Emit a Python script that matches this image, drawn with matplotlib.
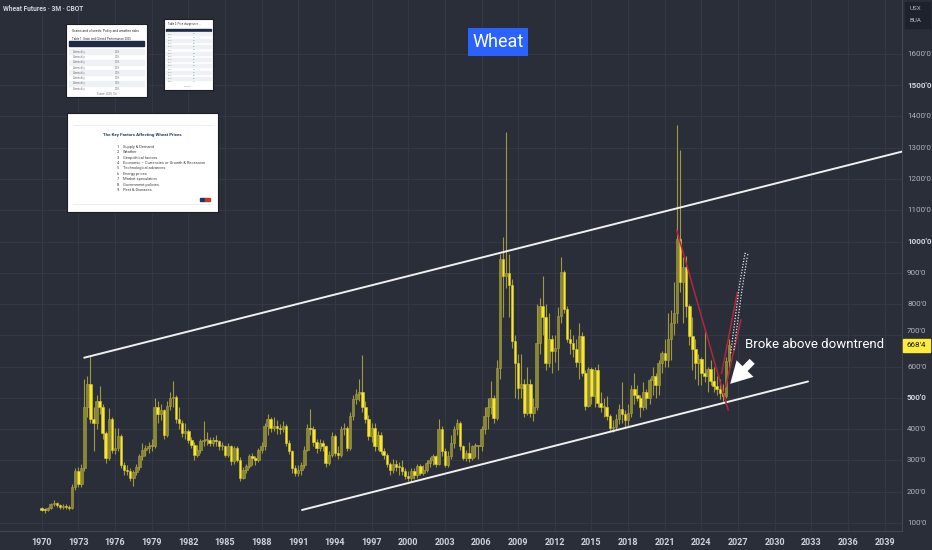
import numpy as np
import matplotlib
matplotlib.use("Agg")
import matplotlib.pyplot as plt
import matplotlib.transforms as mtransforms
from matplotlib.patches import Rectangle

# quarterly candles, 1970 Q1 .. 2026 Q2 (US cents / bushel)
closes = [
    143, 140, 148, 160, 165, 158, 150, 155,
    150, 148, 215, 265, 225, 276, 470, 543,
    431, 420, 490, 470, 388, 307, 431, 334,
    340, 377, 286, 270, 265, 245, 262, 280,
    313, 334, 340, 345, 345, 470, 447, 460,
    383, 475, 500, 503, 431, 420, 388, 395,
    367, 351, 318, 334, 361, 366, 367, 356,
    367, 361, 345, 345, 318, 345, 297, 340,
    302, 243, 270, 281, 313, 308, 302, 334,
    345, 409, 431, 404, 409, 405, 400, 410,
    356, 330, 275, 260, 268, 286, 334, 404,
    400, 360, 340, 355, 345, 292, 318, 377,
    324, 318, 399, 404, 340, 442, 495, 511,
    520, 470, 431, 377, 404, 345, 383, 329,
    318, 290, 270, 290, 280, 278, 265, 249,
    243, 265, 254, 281, 260, 270, 292, 302,
    313, 290, 399, 329, 286, 313, 356, 399,
    420, 345, 308, 324, 308, 345, 345, 345,
    399, 442, 470, 500, 436, 597, 945, 891,
    900, 860, 682, 613, 533, 545, 452, 543,
    452, 470, 677, 795, 760, 613, 690, 650,
    660, 763, 902, 784, 688, 677, 655, 615,
    698, 581, 474, 591, 506, 590, 484, 470,
    470, 441, 404, 408, 433, 463, 450, 430,
    452, 527, 510, 500, 470, 520, 500, 556,
    570, 540, 613, 645, 620, 688, 741, 773,
    1009, 870, 920, 795, 698, 655, 613, 625,
    581, 570, 591, 554, 538, 527, 516, 506,
    618, 668,
]
highs = [
    150, 148, 152, 165, 172, 168, 162, 160,
    160, 156, 225, 275, 280, 290, 560, 570,
    634, 470, 510, 538, 480, 395, 468, 440,
    404, 404, 385, 295, 285, 275, 270, 290,
    320, 355, 350, 360, 370, 500, 490, 480,
    465, 490, 520, 554, 510, 470, 430, 420,
    400, 375, 360, 350, 370, 425, 390, 375,
    375, 380, 365, 360, 350, 355, 350, 345,
    345, 310, 280, 290, 320, 325, 315, 340,
    360, 420, 447, 440, 440, 430, 415, 425,
    415, 365, 335, 285, 285, 295, 345, 415,
    463, 410, 370, 370, 365, 350, 330, 390,
    385, 345, 410, 420, 410, 455, 510, 530,
    560, 636, 490, 445, 420, 420, 395, 390,
    340, 325, 295, 305, 300, 295, 300, 275,
    265, 275, 275, 290, 290, 285, 300, 310,
    320, 318, 431, 410, 340, 330, 380, 410,
    431, 425, 350, 335, 360, 350, 355, 350,
    410, 470, 500, 554, 510, 620, 960, 1014,
    1350, 960, 880, 700, 640, 640, 560, 600,
    560, 500, 800, 820, 890, 800, 770, 700,
    700, 790, 950, 910, 795, 720, 700, 690,
    740, 710, 590, 600, 600, 600, 610, 520,
    500, 505, 450, 430, 450, 480, 550, 460,
    480, 540, 580, 540, 510, 550, 530, 565,
    600, 580, 620, 650, 690, 770, 780, 870,
    1373, 1293, 950, 955, 800, 760, 690, 640,
    630, 720, 600, 620, 600, 570, 560, 545,
    630, 690,
]
lows = [
    138, 132, 137, 145, 155, 150, 145, 146,
    145, 140, 145, 205, 215, 215, 265, 440,
    420, 330, 400, 450, 370, 291, 300, 325,
    320, 330, 275, 255, 255, 233, 217, 255,
    270, 300, 315, 325, 330, 340, 420, 430,
    370, 375, 460, 470, 420, 400, 375, 370,
    355, 340, 300, 310, 325, 345, 350, 345,
    345, 345, 335, 335, 310, 310, 285, 290,
    295, 235, 240, 260, 275, 285, 285, 295,
    325, 335, 380, 390, 395, 385, 385, 390,
    345, 320, 260, 250, 250, 255, 275, 330,
    380, 345, 325, 330, 330, 280, 285, 310,
    315, 305, 310, 380, 330, 335, 430, 480,
    490, 455, 420, 365, 360, 330, 335, 320,
    305, 280, 255, 260, 265, 255, 255, 240,
    235, 235, 240, 245, 255, 255, 262, 280,
    285, 278, 285, 315, 280, 280, 305, 340,
    380, 335, 300, 298, 295, 300, 310, 305,
    330, 385, 400, 450, 420, 430, 560, 760,
    850, 760, 660, 500, 495, 500, 440, 445,
    440, 425, 460, 640, 700, 590, 600, 580,
    615, 590, 740, 770, 680, 640, 630, 600,
    560, 570, 460, 470, 480, 470, 470, 455,
    440, 430, 395, 390, 400, 415, 420, 405,
    410, 440, 480, 490, 440, 460, 465, 480,
    510, 500, 510, 580, 600, 600, 620, 700,
    740, 840, 740, 760, 670, 590, 560, 540,
    540, 550, 520, 540, 520, 510, 495, 490,
    500, 600,
]
first_open = 145
last_close = 668.5
last_price = "668'4"

year_ticks = list(range(1970, 2040, 3))
price_ticks = list(range(100, 1700, 100))

# drawings on the chart, as (year, price) anchors
channel_top = [(1973.49, 628.6), (2040.41, 1287.7)]
channel_bottom = [(1991.31, 141.6), (2032.72, 552.5)]
red_lines = [
    [(2021.97, 1037), (2026.19, 461.4)],
    [(2025.65, 578.7), (2026.93, 836.5)],
    [(2025.98, 535.9), (2027.23, 749.2)],
]
dotted_paths = [
    [(2026.39, 642.7), (2027.09, 855.7), (2027.56, 962.5), (2027.83, 957.1)],
    [(2026.66, 653.2), (2027.29, 839.7), (2027.75, 951.6)],
]
arrow_tail = (2028.15, 617)
arrow_tip = (2026.35, 545)
note_pos = (2027.56, 672.4)

factors = ["Supply & Demand", "Weather", "Geopolitical factors",
           "Economic \u2013 Currencies or Growth & Recession",
           "Technological advances", "Energy prices", "Market speculation",
           "Government policies", "Pest & Diseases"]

bg = "#2a2e39"
grid_c = "#353a47"
txt_c = "#d1d4dc"

plt.rcParams["font.family"] = ["Roboto", "DejaVu Sans"]

W, H = 932, 550
fig = plt.figure(figsize=(W / 100, H / 100), dpi=100)
fig.patch.set_facecolor(bg)
ax = fig.add_axes([0, 19 / H, 902 / W, 531 / H])
ax.set_facecolor(bg)
ax.set_xlim(1966.596, 2040.41)
ax.set_ylim(74.4, 1772.5)

# candles
c = np.array(closes, dtype=float)
o = np.array([first_open] + closes[:-1], dtype=float)
hi = np.array(highs, dtype=float)
lo = np.array(lows, dtype=float)
xs = 1970 + np.arange(len(c)) * 0.25
up = c >= o
body_col = np.where(up, "#8a8638", "#f7e62c")
edge_col = np.where(up, "#aaa342", "#d9c932")
ax.vlines(xs, lo, hi, colors="#a09a3e", lw=0.8, zorder=2)
bottom = np.minimum(o, c)
height = np.maximum(np.abs(c - o), 4)
ax.bar(xs, height, bottom=bottom, width=0.21, color=body_col,
       edgecolor=edge_col, linewidth=0.4, zorder=3)

# channel + downtrend drawings
for seg in (channel_top, channel_bottom):
    ax.plot(*zip(*seg), color="#f0f0f0", lw=1.4, zorder=4, solid_capstyle="round")
for seg in red_lines:
    ax.plot(*zip(*seg), color="#b3263f", lw=1.1, zorder=4)
for path in dotted_paths:
    ax.plot(*zip(*path), color="#e8e8e8", lw=0.9, ls=(0, (1, 1.3)), zorder=4)
ax.annotate("", xy=arrow_tip, xytext=arrow_tail,
            arrowprops=dict(arrowstyle="simple,tail_width=0.3,head_width=1.0,head_length=0.9",
                            color="white", mutation_scale=17, lw=0, shrinkA=0, shrinkB=0),
            zorder=5)
ax.text(*note_pos, "Broke above downtrend", color="white", fontsize=9.5,
        va="center", ha="left", zorder=5)

# axes styling
ax.set_xticks(year_ticks)
ax.set_xticklabels([str(y) for y in year_ticks])
ax.set_yticks(price_ticks)
ax.set_yticklabels([])
ax.yaxis.tick_right()
ax.tick_params(axis="x", length=0, pad=5, labelsize=6.5, labelcolor=txt_c)
ax.tick_params(axis="y", length=0)
for lab in ax.get_xticklabels():
    lab.set_fontweight("bold")
ax.grid(True, color=grid_c, lw=0.6)
ax.set_axisbelow(True)
for s in ("top", "left"):
    ax.spines[s].set_visible(False)
for s in ("bottom", "right"):
    ax.spines[s].set_color("#434651")
    ax.spines[s].set_linewidth(0.8)

# price scale labels (700 nudged up by the last-price badge)
ytrans = ax.get_yaxis_transform()
for p in price_ticks:
    tr = ytrans
    if p == 700:
        tr = mtransforms.offset_copy(ytrans, fig=fig, y=4, units="dots")
    strong = p in (500, 1000, 1500)
    ax.text(1 + 5 / 902, p, f"{p}'0", transform=tr, fontsize=5.8,
            color=txt_c if strong else "#b2b5be",
            fontweight="bold" if strong else "normal",
            ha="left", va="center", clip_on=False)


def px_rect(x0, y0, x1, y1):
    return [x0 / W, 1 - y1 / H, (x1 - x0) / W, (y1 - y0) / H]


# header text
fig.text(3 / W, 1 - 9 / H, "Wheat Futures \u00b7 3M \u00b7 CBOT", color=txt_c,
         fontsize=4.8, va="center", ha="left", fontweight="bold")
fig.patches.append(Rectangle((905 / W, 1 - 28 / H), 25 / W, 26 / H,
                             transform=fig.transFigure, color="#1e222d"))
fig.text(910 / W, 1 - 9 / H, "USX", color="#b2b5be", fontsize=4.5, va="center")
fig.text(910 / W, 1 - 21 / H, "BUA", color="#b2b5be", fontsize=4.5, va="center")

# last price badge
yb = ax.transData.transform((2000, last_close))[1]
fig.patches.append(Rectangle((903 / W, (yb - 6.5) / H), 27 / W, 13 / H,
                             transform=fig.transFigure, color="#ffeb3b", zorder=10))
fig.text(916.5 / W, yb / H, last_price, color="#131722", fontsize=5.8,
         ha="center", va="center", zorder=11)

# title badge
fig.text(498 / W, 1 - 42 / H, "Wheat", color="white", fontsize=13,
         ha="center", va="center",
         bbox=dict(boxstyle="square,pad=0.25", fc="#2962ff", ec="none"))


def card(rect):
    a = fig.add_axes(rect)
    a.set_xlim(0, 1)
    a.set_ylim(0, 1)
    a.set_xticks([])
    a.set_yticks([])
    a.set_facecolor("white")
    for s in a.spines.values():
        s.set_color("#1b1e26")
        s.set_linewidth(0.8)
    return a


# screenshot cards
c1 = card(px_rect(66, 24, 147, 97))
c1.text(0.08, 0.9, "Grains and oilseeds: Policy and weather risks", fontsize=2.4,
        color="#333333", va="center")
c1.text(0.08, 0.8, "Table 1: Grain and Oilseed Performance 2025", fontsize=2.1,
        color="#333333", va="center")
c1.add_patch(Rectangle((0.04, 0.7), 0.92, 0.07, color="#1f2a44"))
for i in range(8):
    yy = 0.62 - i * 0.072
    if i % 2 == 0:
        c1.add_patch(Rectangle((0.04, yy - 0.034), 0.92, 0.068, color="#eef1f5"))
    c1.text(0.08, yy, "Commodity", fontsize=1.8, color="#777777", va="center")
    c1.text(0.6, yy, "0.0%", fontsize=1.8, color="#777777", va="center")
c1.text(0.5, 0.06, "Source: LSEG, Citi", fontsize=1.8, color="#777777",
        ha="center", va="center")

c2 = card(px_rect(164, 19, 213, 90))
c2.text(0.08, 0.93, "Table 2: Price change since ...", fontsize=1.8,
        color="#333333", va="center")
c2.add_patch(Rectangle((0.05, 0.83), 0.9, 0.03, color="#1f2a44"))
for i in range(16):
    yy = 0.79 - i * 0.045
    if i % 2 == 0:
        c2.add_patch(Rectangle((0.05, yy - 0.022), 0.9, 0.044, color="#eef1f5"))
    c2.text(0.08, yy, "Item", fontsize=1.5, color="#888888", va="center")
    c2.text(0.58, yy, "0%", fontsize=1.5,
            color="#c9a800" if i == 15 else "#5a9a6a", va="center")
c2.text(0.5, 0.04, "Source: ...", fontsize=1.5, color="#888888", ha="center")

c3 = card(px_rect(67, 113, 218, 212))
c3.plot([0.04, 0.96], [0.88, 0.88], color="#e6e6e6", lw=0.5)
c3.plot([0.04, 0.96], [0.08, 0.08], color="#e6e6e6", lw=0.5)
c3.text(0.5, 0.78, "The Key Factors Affecting Wheat Prices", fontsize=3.2,
        color="#1f3864", ha="center", va="center", fontweight="bold")
for i, f in enumerate(factors):
    yy = 0.66 - i * 0.055
    c3.text(0.33, yy, f"{i + 1}.", fontsize=2.9, color="#444444", va="center")
    c3.text(0.37, yy, f, fontsize=2.9, color="#444444", va="center")
c3.add_patch(Rectangle((0.88, 0.11), 0.035, 0.035, color="#1f3864"))
c3.add_patch(Rectangle((0.915, 0.11), 0.035, 0.035, color="#c0392b"))

fig.savefig("out.png", dpi=100, facecolor=bg)
